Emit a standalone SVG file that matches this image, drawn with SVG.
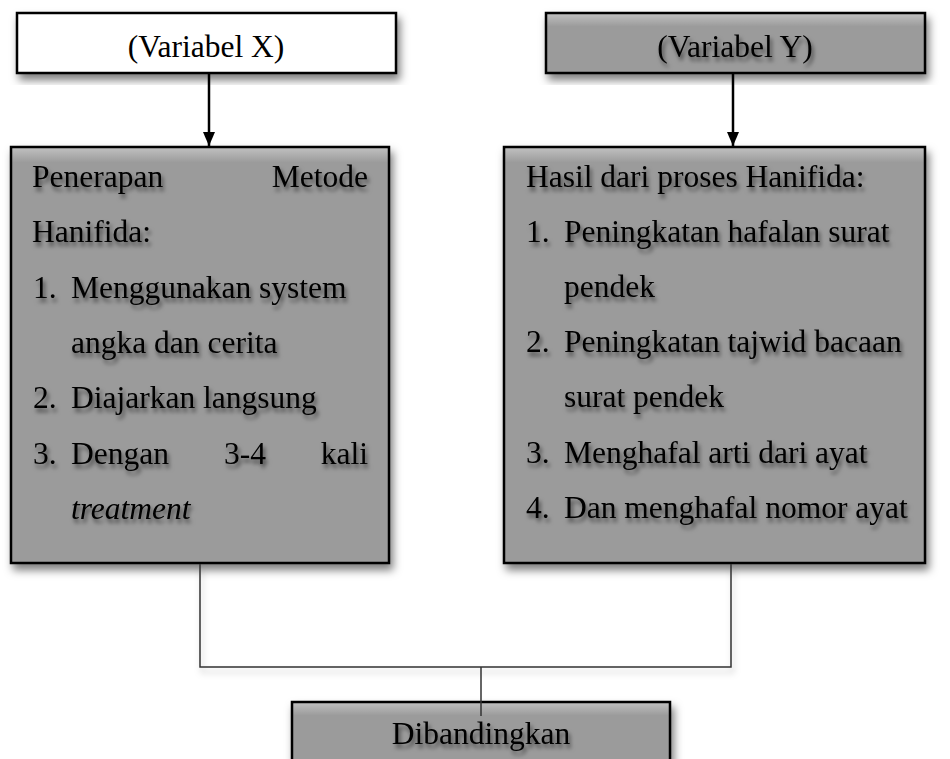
<svg xmlns="http://www.w3.org/2000/svg" width="950" height="759" viewBox="0 0 950 759">
  <defs>
    <style>
      .box { stroke: #000; stroke-width: 2.5; }
      .white { fill: #ffffff; }
      .gray { fill: #9b9b9b; }
      .t { font-family: "Liberation Serif", "Times New Roman", serif; font-size: 31.5px; fill: #000; }
      .it { font-style: italic; }
      .arrow { stroke: #000; stroke-width: 2.5; fill: none; }
      .thin { stroke: #333; stroke-width: 1.5; fill: none; }
    </style>
    <filter id="boxShadow" x="-10%" y="-10%" width="125%" height="130%">
      <feDropShadow dx="3" dy="6" stdDeviation="4" flood-color="#000" flood-opacity="0.5"/>
    </filter>
    <filter id="lineShadow" x="-10%" y="-50%" width="120%" height="300%">
      <feDropShadow dx="2" dy="5" stdDeviation="3" flood-color="#000" flood-opacity="0.25"/>
    </filter>
    <filter id="textShadow" x="-5%" y="-30%" width="115%" height="180%">
      <feDropShadow dx="2" dy="4" stdDeviation="2" flood-color="#000" flood-opacity="0.55"/>
    </filter>
    <linearGradient id="topSheen" x1="0" y1="0" x2="0" y2="1">
      <stop offset="0" stop-color="#ffffff" stop-opacity="0.35"/>
      <stop offset="1" stop-color="#ffffff" stop-opacity="0"/>
    </linearGradient>
    <marker id="ah" viewBox="0 0 14 12" refX="14" refY="6" markerWidth="14" markerHeight="12" markerUnits="userSpaceOnUse" orient="auto-start-reverse">
      <path d="M0,0 L14,6 L0,12 z" fill="#000"/>
    </marker>
  </defs>

  <g id="varX">
    <rect class="box white" x="17" y="13" width="379" height="60" filter="url(#boxShadow)"/>
    <text class="t" x="206" y="57" text-anchor="middle">(Variabel X)</text>
  </g>

  <g id="varY">
    <rect class="box gray" x="546" y="13" width="379" height="60" filter="url(#boxShadow)"/>
    <rect x="547.5" y="14.5" width="376" height="12" fill="url(#topSheen)"/>
    <text class="t" x="735" y="57" text-anchor="middle" filter="url(#textShadow)">(Variabel Y)</text>
  </g>

  <g id="penerapan">
    <rect class="box gray" x="11" y="147" width="378" height="416" filter="url(#boxShadow)"/>
    <rect x="12.5" y="148.5" width="375" height="14" fill="url(#topSheen)"/>
    <g filter="url(#textShadow)">
      <text class="t" x="32" y="187">Penerapan</text>
      <text class="t" x="368" y="187" text-anchor="end">Metode</text>
      <text class="t" x="32" y="242">Hanifida:</text>
      <text class="t" x="33" y="298">1.</text>
      <text class="t" x="71" y="298">Menggunakan system</text>
      <text class="t" x="71" y="353">angka dan cerita</text>
      <text class="t" x="33" y="408">2.</text>
      <text class="t" x="71" y="408">Diajarkan langsung</text>
      <text class="t" x="33" y="464">3.</text>
      <text class="t" x="71" y="464">Dengan</text>
      <text class="t" x="245" y="464" text-anchor="middle">3-4</text>
      <text class="t" x="368" y="464" text-anchor="end">kali</text>
      <text class="t it" x="71" y="519">treatment</text>
    </g>
  </g>

  <g id="hasil">
    <rect class="box gray" x="504" y="147" width="421" height="416" filter="url(#boxShadow)"/>
    <rect x="505.5" y="148.5" width="418" height="14" fill="url(#topSheen)"/>
    <g filter="url(#textShadow)">
      <text class="t" x="526" y="187">Hasil dari proses Hanifida:</text>
      <text class="t" x="526" y="242">1.</text>
      <text class="t" x="564" y="242">Peningkatan hafalan surat</text>
      <text class="t" x="564" y="297">pendek</text>
      <text class="t" x="526" y="352">2.</text>
      <text class="t" x="564" y="352">Peningkatan tajwid bacaan</text>
      <text class="t" x="564" y="407">surat pendek</text>
      <text class="t" x="526" y="463">3.</text>
      <text class="t" x="564" y="463">Menghafal arti dari ayat</text>
      <text class="t" x="526" y="518">4.</text>
      <text class="t" x="564" y="518">Dan menghafal nomor ayat</text>
    </g>
  </g>

  <g id="dibandingkan">
    <rect class="box gray" x="292" y="702" width="378" height="80" filter="url(#boxShadow)"/>
    <rect x="293.5" y="703.5" width="375" height="12" fill="url(#topSheen)"/>
    <text class="t" x="481" y="744" text-anchor="middle" filter="url(#textShadow)">Dibandingkan</text>
  </g>

  <g id="connectors">
    <line class="arrow" x1="398" y1="40" x2="544" y2="40" marker-start="url(#ah)" marker-end="url(#ah)" filter="url(#lineShadow)"/>
    <line class="arrow" x1="209" y1="74" x2="209" y2="146" marker-end="url(#ah)"/>
    <line class="arrow" x1="733" y1="74" x2="733" y2="146" marker-end="url(#ah)"/>
    <polyline class="thin" points="200,564 200,667 731,667 731,564" filter="url(#lineShadow)"/>
    <line class="thin" x1="481" y1="667" x2="481" y2="716"/>
  </g>
</svg>
